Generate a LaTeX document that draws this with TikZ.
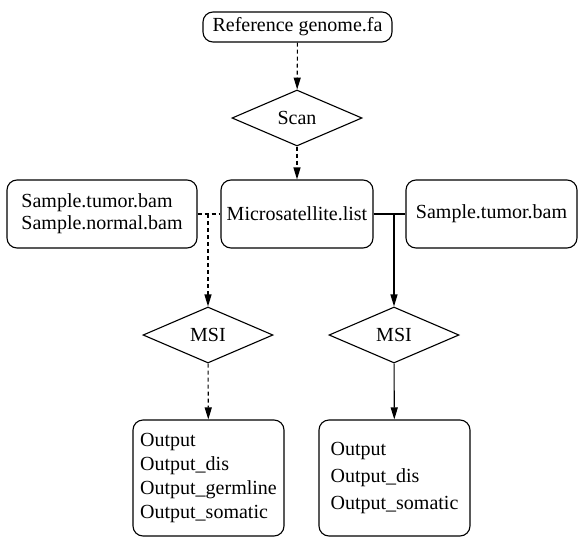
\documentclass[tikz,border=0pt]{standalone}
\usepackage{fontspec}
\setmainfont{Liberation Serif}
\usetikzlibrary{shapes.geometric}
\usetikzlibrary{arrows.meta}

\tikzset{
  file/.style={draw, rounded corners=10pt, line width=1.1pt, align=left, inner sep=0pt},
  decide/.style={draw, diamond, aspect=2.3, line width=1.1pt, inner sep=0pt,
    minimum width=130pt, minimum height=56pt},
  flow/.style={line width=1.1pt, -{Triangle[length=12pt,width=7pt]}},
  dflow/.style={flow, dash pattern=on 4pt off 3pt},
  link/.style={line width=1.1pt},
  dlink/.style={link, dash pattern=on 4pt off 3pt}
}

\begin{document}
\begin{tikzpicture}[x=1pt, y=-1pt, font=\fontsize{20}{22}\selectfont]
    \useasboundingbox (0,0) rectangle (578,538);

    \node[file, minimum width=189pt, minimum height=30pt] (ref) at (297.5,27) {Reference genome.fa};
    \node[decide] (scan) at (297,118) {Scan};
    \node[file, minimum width=152pt, minimum height=68pt] (ms) at (297,214) {Microsatellite.list};
    \node[file, minimum width=190pt, minimum height=68pt] (pair) at (102,214) {Sample.tumor.bam\\Sample.normal.bam};
    \node[file, minimum width=171pt, minimum height=68pt] (tum) at (491.5,214) {Sample.tumor.bam};
    \node[decide] (msiL) at (208,335) {MSI};
    \node[decide] (msiR) at (394,335) {MSI};
    \node[file, minimum width=151pt, minimum height=116pt,
      font=\fontsize{20}{24}\selectfont] (outL) at (208.5,478)
      {Output\\Output\_dis\\Output\_germline\\Output\_somatic};
    \node[file, minimum width=151pt, minimum height=116pt,
      font=\fontsize{20}{27}\selectfont] (outR) at (394.5,478)
      {Output\\Output\_dis\\Output\_somatic};

    \coordinate (jL) at (pair.east -| msiL.north);
    \coordinate (jR) at (ms.east -| msiR.north);

    % Edges
    \draw[dflow] (ref) -- (scan);
    \draw[dflow] (scan) -- (ms);
    \draw[dlink] (pair.east) -- (ms.west);
    \draw[link] (ms.east) -- (tum.west);
    \draw[dflow] (jL) -- (msiL.north);
    \draw[flow] (jR) -- (msiR.north);
    \draw[dflow] (msiL) -- (outL);
    \draw[flow] (msiR) -- (outR);
\end{tikzpicture}
\end{document}
